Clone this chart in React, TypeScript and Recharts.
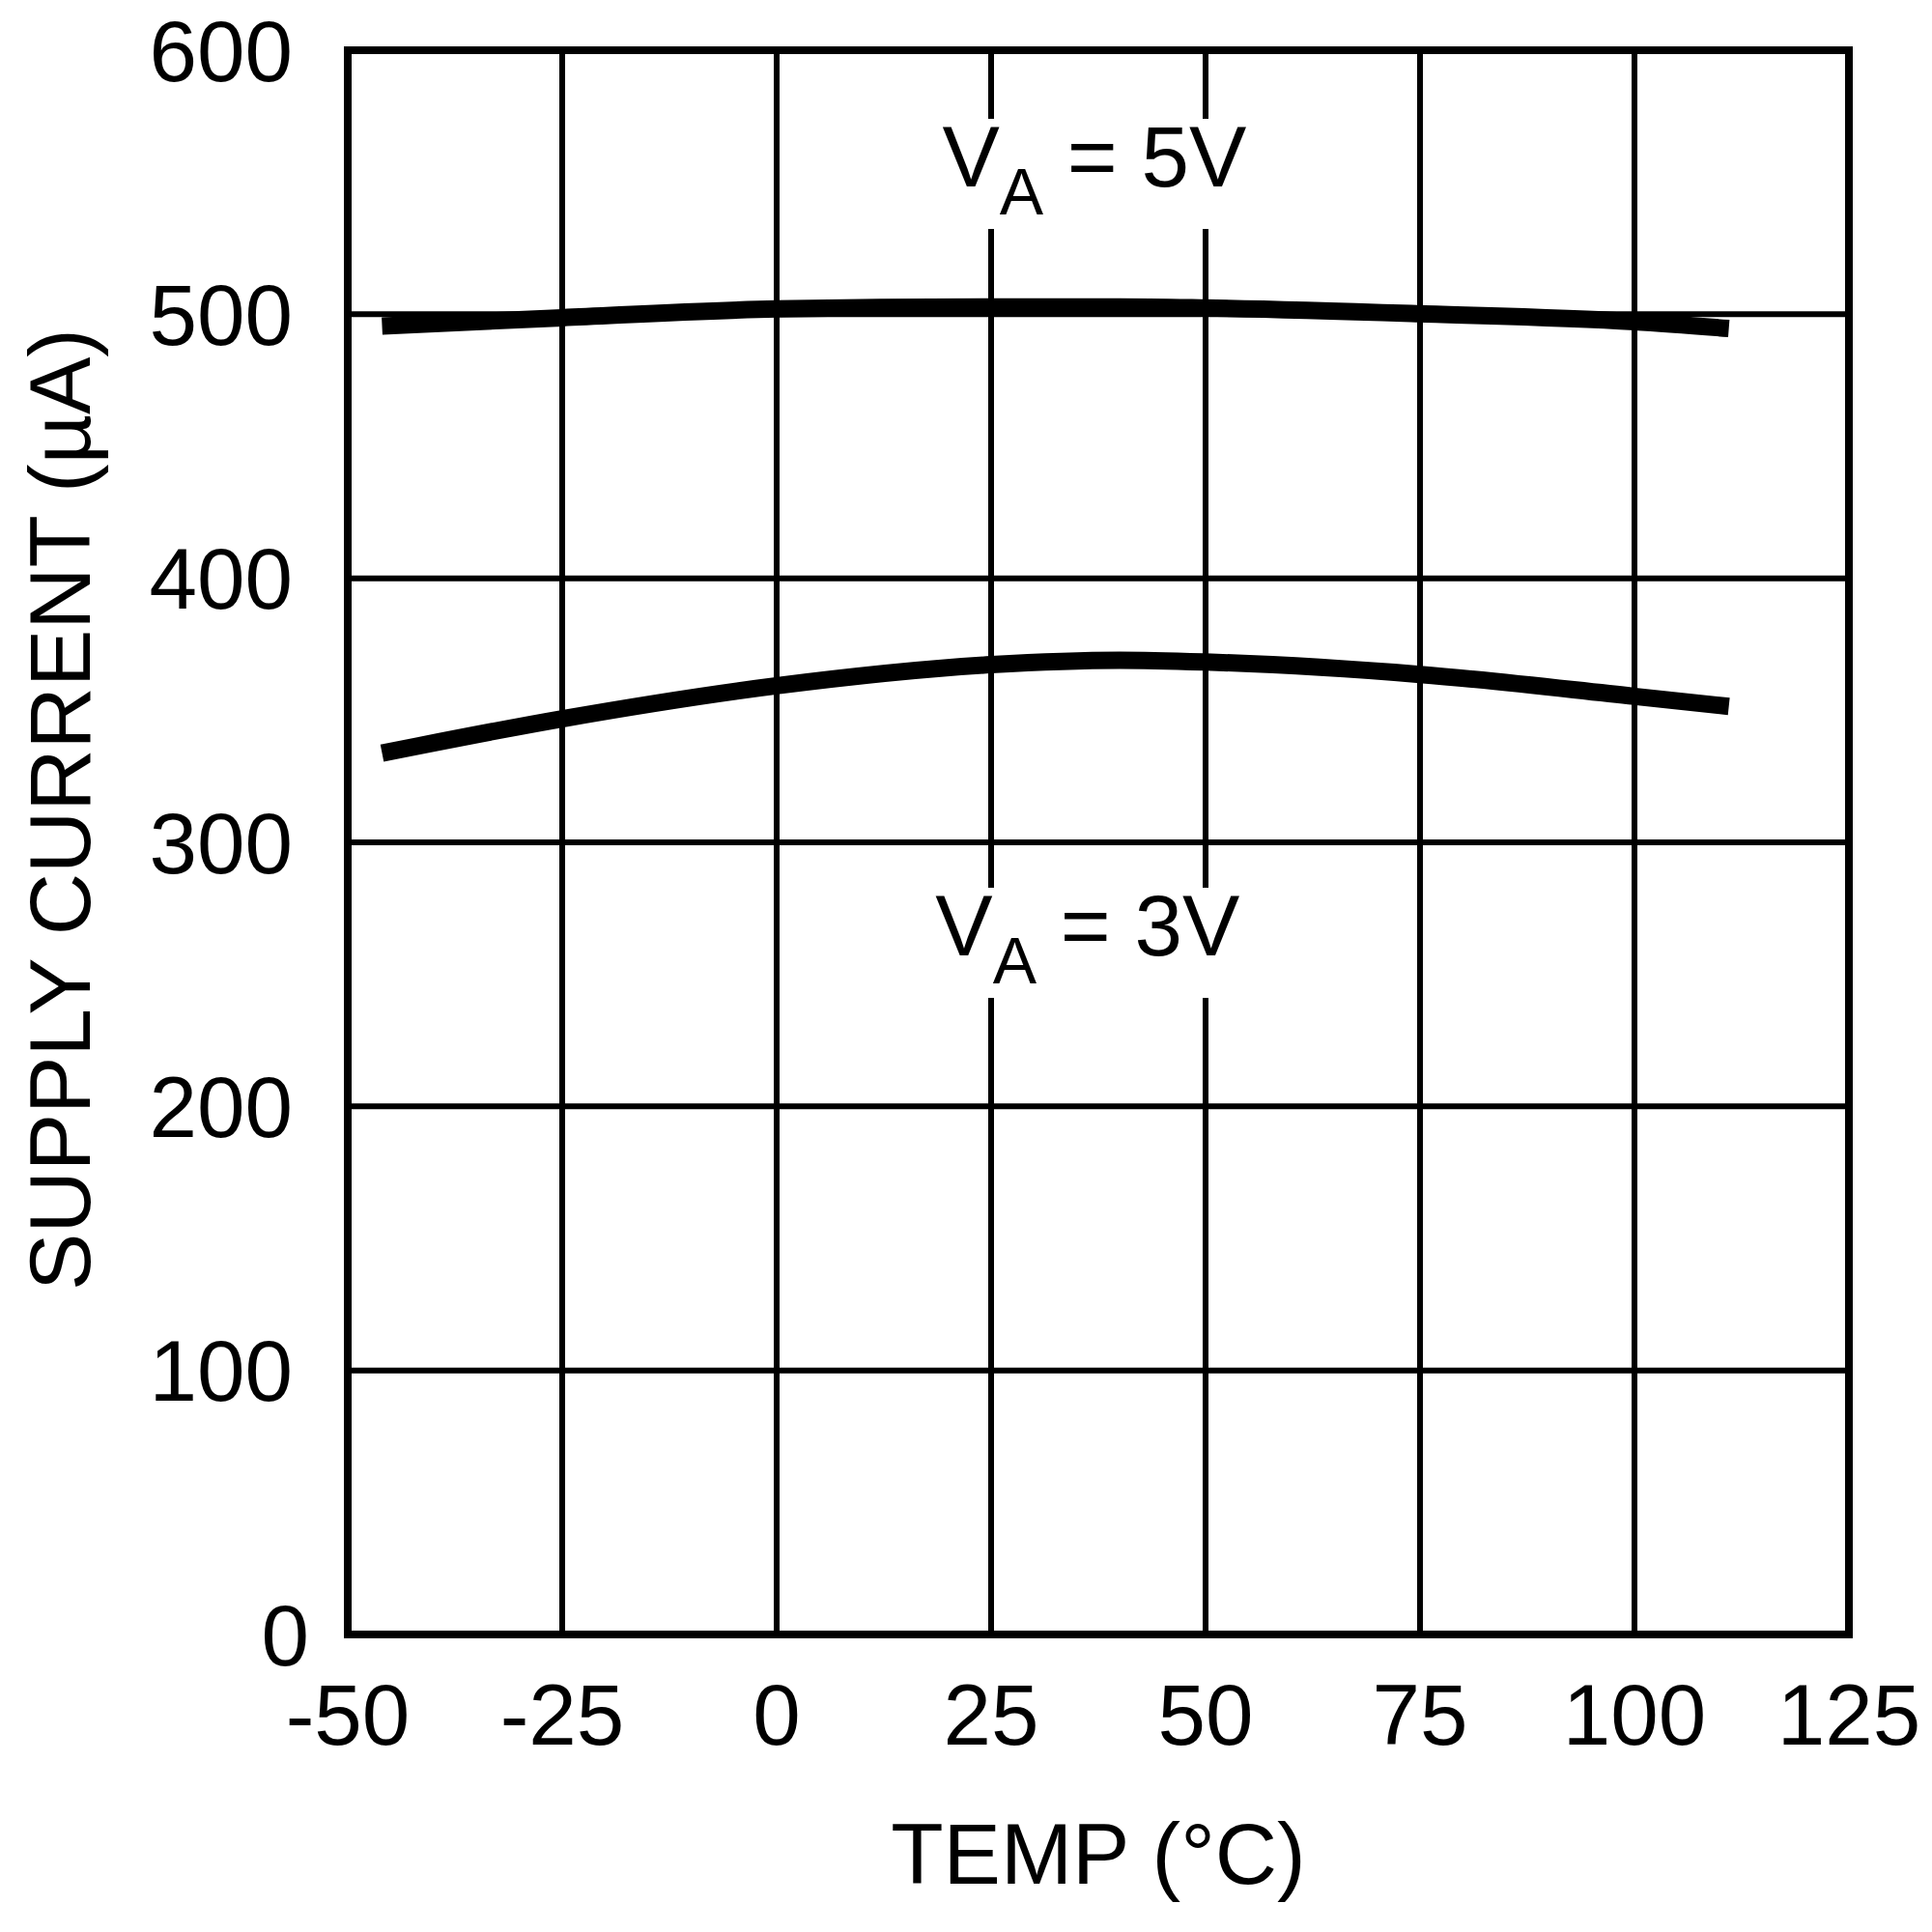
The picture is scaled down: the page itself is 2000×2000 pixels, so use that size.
import {
  LineChart,
  Line,
  XAxis,
  YAxis,
  CartesianGrid,
  ReferenceArea,
  ReferenceDot,
  Label,
} from "recharts"

const FONT = "'Liberation Sans', Arial, sans-serif"

// temperature points (°C)
const temps = [-46, -25, 0, 25, 40, 50, 75, 100, 111]
// supply current (µA)
const va5 = [495.5, 498.7, 502.0, 502.8, 502.8, 502.4, 500.2, 497.2, 494.6]
const va3 = [333.8, 346.8, 359.3, 367.3, 369.0, 368.3, 363.6, 355.3, 351.5]

const xTicks = [-50, -25, 0, 25, 50, 75, 100, 125]
const yTicks = [0, 100, 200, 300, 400, 500, 600]

// curve annotations: anchor is text start / baseline, in data units
const notes = [
  { temp: 19.3, current: 548.4, value: "5V" },
  { temp: 18.5, current: 257.2, value: "3V" },
]

const data = temps.map((t, i) => ({ temp: t, va5: va5[i], va3: va3[i] }))

function YTick({ x, y, payload }: any) {
  // the "0" label sits a little further right in the original
  const shift = payload.value === 0 ? 17 : 0
  return (
    <text
      x={x - 49 + shift}
      y={y}
      dy="0.355em"
      textAnchor="end"
      fontFamily={FONT}
      fontSize={89}
      fill="#000"
    >
      {payload.value}
    </text>
  )
}

function NoteShape({ cx, cy, text }: any) {
  return (
    <g>
      <rect x={cx - 14} y={cy - 70} width={345} height={114} fill="#fff" />
      <text x={cx} y={cy} fontFamily={FONT} fontSize={89} fill="#000">
        V
        <tspan fontSize={68} dy={29}>
          A
        </tspan>
        <tspan dy={-29}>{" = " + text}</tspan>
      </text>
    </g>
  )
}

export default function App() {
  return (
    <LineChart
      width={1984}
      height={1984}
      data={data}
      margin={{ top: 44, right: 78, bottom: 0, left: 0 }}
    >
      <CartesianGrid stroke="#000" strokeWidth={6} />
      <XAxis
        dataKey="temp"
        type="number"
        domain={[-50, 125]}
        ticks={xTicks}
        height={300}
        axisLine={false}
        tickLine={false}
        tickMargin={45}
        tick={{ fontFamily: FONT, fontSize: 89, fill: "#000" }}
        interval={0}
      >
        <Label
          content={({ viewBox }: any) => (
            <text
              x={viewBox.x + viewBox.width / 2}
              y={viewBox.y + 258}
              textAnchor="middle"
              fontFamily={FONT}
              fontSize={89}
              fill="#000"
            >
              TEMP (°C)
            </text>
          )}
        />
      </XAxis>
      <YAxis
        type="number"
        domain={[0, 600]}
        ticks={yTicks}
        width={352}
        axisLine={false}
        tickLine={false}
        tick={<YTick />}
        interval={0}
      >
        <Label
          content={({ viewBox }: any) => {
            const cx = viewBox.x + 53.5
            const cy = viewBox.y + viewBox.height / 2 - 34
            return (
              <text
                x={cx}
                y={cy}
                dy="0.355em"
                textAnchor="middle"
                transform={`rotate(-90, ${cx}, ${cy})`}
                fontFamily={FONT}
                fontSize={89}
                fill="#000"
              >
                SUPPLY CURRENT (µA)
              </text>
            )
          }}
        />
      </YAxis>
      {notes.map((n) => (
        <ReferenceDot
          key={n.value}
          x={n.temp}
          y={n.current}
          r={0}
          ifOverflow="visible"
          shape={(p: any) => <NoteShape cx={p.cx} cy={p.cy} text={n.value} />}
        />
      ))}
      <Line
        dataKey="va5"
        type="monotone"
        stroke="#000"
        strokeWidth={18}
        dot={false}
        activeDot={false}
        isAnimationActive={false}
      />
      <Line
        dataKey="va3"
        type="monotone"
        stroke="#000"
        strokeWidth={18}
        dot={false}
        activeDot={false}
        isAnimationActive={false}
      />
      <ReferenceArea
        x1={-50}
        x2={125}
        y1={0}
        y2={600}
        fill="none"
        fillOpacity={0}
        stroke="#000"
        strokeWidth={8}
        ifOverflow="visible"
      />
    </LineChart>
  )
}
